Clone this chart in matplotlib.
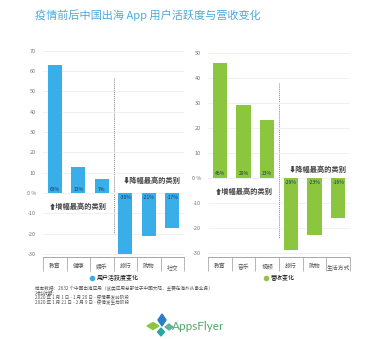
import matplotlib
matplotlib.use("Agg")
import matplotlib.pyplot as plt
from matplotlib.lines import Line2D
from matplotlib.patches import Polygon

plt.rcParams["font.family"] = ["Noto Sans CJK SC", "DejaVu Sans"]

# data
title = "疫情前后中国出海 App 用户活跃度与营收变化"
left_cats = ["教育", "健康", "娱乐", "旅行", "购物", "社交"]
left_vals = [63, 13, 7, -30, -21, -17]
right_cats = ["教育", "音乐", "视频", "旅行", "购物", "生活方式"]
right_vals = [46, 29, 23, -29, -23, -16]
left_ticks = [70, 60, 50, 40, 30, 20, 10, 0, -10, -20, -30]
right_ticks = [50, 40, 30, 20, 10, 0, -10, -20, -30]
notes = [
    "样本数据：2632 个中国出海应用（该类应用总部位于中国大陆，主要在海外从事业务）",
    "对比时期：",
    "2020 年 1 月 1 日 - 1 月 20 日 - 疫情暴发前阶段",
    "2020 年 1 月 21 日 - 2 月 9 日 - 疫情发生后阶段",
]

BLUE = "#3aaee8"
GREEN = "#8cc63e"

fig = plt.figure(figsize=(3.76, 3.39), dpi=100)
fig.text(0.093, 0.956, title, fontsize=8, color="#4fa9d9", va="center")


def panel(rect, cats, vals, ticks, ylim, color, legend_label, vline, down_xy, up_xy):
    ax = fig.add_axes(rect)
    x = list(range(len(cats)))
    ax.bar(x, vals, width=0.6, color=color, zorder=2)
    ax.set_xlim(-0.5, len(cats) - 0.5)
    ax.set_ylim(*ylim)
    ax.set_yticks(ticks)
    ax.set_yticklabels(["0 %" if t == 0 else str(t) for t in ticks])
    ax.tick_params(axis="y", length=0, labelsize=4, labelcolor="#777777", pad=5)
    ax.grid(axis="y", color="#eeeeee", lw=0.6, zorder=0)
    for s in ["left", "right", "top"]:
        ax.spines[s].set_visible(False)
    ax.spines["bottom"].set_color("#999999")
    ax.spines["bottom"].set_linewidth(0.6)
    ax.spines["bottom"].set_position(("data", ylim[0]))
    ax.set_xticks(x)
    ax.set_xticklabels(cats, fontsize=4.2, color="#555555")
    ax.set_xticks([i - 0.5 for i in range(len(cats) + 1)], minor=True)
    ax.tick_params(axis="x", which="major", length=0, pad=5)
    ax.tick_params(axis="x", which="minor", length=10, width=0.5, color="#999999")
    for xi, v in zip(x, vals):
        if v >= 0:
            ax.text(xi, 0.6, f"{v}%", ha="center", va="bottom", fontsize=3.6, color="#1d3557", zorder=3)
        else:
            ax.text(xi, -0.8, f"{v}%", ha="center", va="top", fontsize=3.6, color="#1d3557", zorder=3)
    ax.plot([2.5, 2.5], vline, ls=(0, (1, 1)), color="#888888", lw=0.7, zorder=1)
    ax.text(down_xy[0], down_xy[1], "⬇降幅最高的类别", ha="center", va="center",
            fontsize=5.2, color="#444444", fontweight="bold")
    ax.text(up_xy[0], up_xy[1], "⬆增幅最高的类别", ha="center", va="center",
            fontsize=5.2, color="#444444", fontweight="bold")
    handle = Line2D([], [], marker="o", ls="", color=color, markersize=3)
    ax.legend([handle], [legend_label], loc="center", bbox_to_anchor=(0.5, -0.1),
              frameon=False, fontsize=4.3, handletextpad=0.3, handlelength=1)
    return ax


panel([0.1144, 0.242, 0.375, 0.608], left_cats, left_vals, left_ticks, (-31.5, 70), BLUE,
      "用户活跃度变化", (56.6, -20.7), (4.14, 6.4), (0.97, -6.4))
panel([0.553, 0.242, 0.378, 0.609], right_cats, right_vals, right_ticks, (-31.6, 50.8), GREEN,
      "营收变化", (38, -24), (4.14, 3.6), (1.0, -5.5))

for i, line in enumerate(notes):
    fig.text(0.093, 1 - (288 + 5 * i) / 339, line, fontsize=3.3, color="#555555", va="center")

# AppsFlyer logo
W, H = 376, 339


def diamond(cx, cy, w, h, c):
    pts = [((cx) / W, 1 - (cy - h) / H), ((cx + w) / W, 1 - cy / H),
           (cx / W, 1 - (cy + h) / H), ((cx - w) / W, 1 - cy / H)]
    fig.patches.append(Polygon(pts, closed=True, transform=fig.transFigure, color=c))


diamond(162, 320, 4, 6, "#2a7fc4")
diamond(153, 326, 6, 3.5, "#8cc63e")
diamond(169, 327, 4, 3, "#5fb3a0")
diamond(161, 332, 3.5, 4, "#2aa6a0")
fig.text(172 / W, 1 - 327 / H, "AppsFlyer", fontsize=8.5, color="#52a86a", va="center",
         family="Lato")

fig.savefig("out.png", dpi=100)
